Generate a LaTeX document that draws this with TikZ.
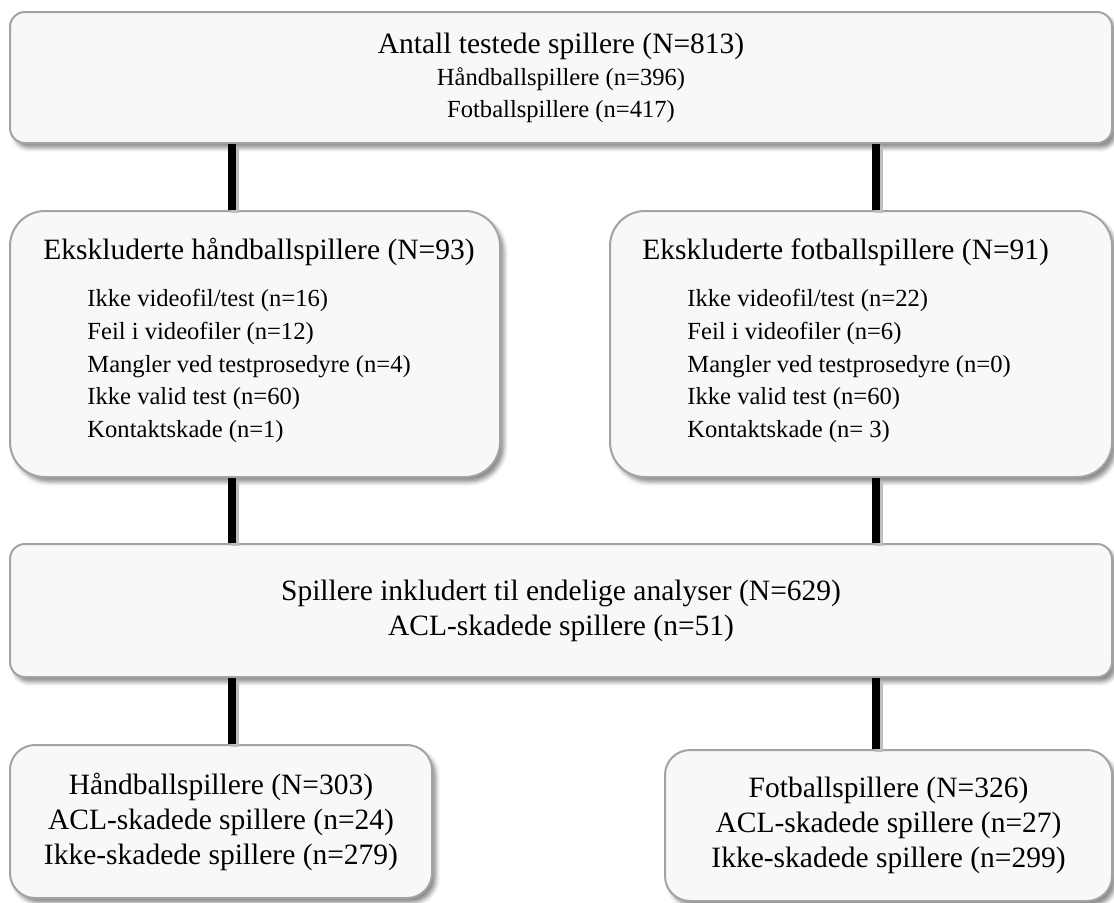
\documentclass[tikz,border=0pt]{standalone}
\usepackage{fontspec}
\setmainfont{Liberation Serif}
\usetikzlibrary{shadows.blur}
\definecolor{boksfyll}{HTML}{F8F8F8}
\definecolor{boksramme}{HTML}{A3A3A3}
\tikzset{
  boks/.style={draw=boksramme, line width=1pt, fill=boksfyll, inner sep=0pt,
    blur shadow={shadow xshift=2pt, shadow yshift=-2.5pt, shadow blur radius=2pt, shadow opacity=45}},
  stor/.style={font=\fontsize{14.75pt}{17.5pt}\selectfont},
  liten/.style={font=\fontsize{12.3pt}{16pt}\selectfont},
  tittel/.style={stor, anchor=west, inner xsep=0pt},
  liste/.style={font=\fontsize{12.3pt}{16.4pt}\selectfont, align=left, anchor=west, inner xsep=0pt},
  linje/.style={line width=4pt,
    preaction={draw=black!25, line width=4pt, transform canvas={xshift=1.5pt, yshift=-1.5pt}}}
}
\newcommand{\storskrift}{\fontsize{14.75pt}{16pt}\selectfont}
\begin{document}
\begin{tikzpicture}[x=0.5pt, y=-0.5pt]
  \useasboundingbox (0,0) rectangle (1114,902);

  % Alle testede spillere
  \node[boks, liten, align=center, rounded corners=7.5pt, minimum width=551pt, minimum height=65.5pt]
    (testet) at (561,77.5)
    {{\storskrift Antall testede spillere (N=813)}\\ Håndballspillere (n=396)\\ Fotballspillere (n=417)};

  % Ekskluderte spillere
  \node[boks, rounded corners=17.5pt, minimum width=245pt, minimum height=133pt] (ekshb) at (255,344) {};
  \node[boks, rounded corners=17.5pt, minimum width=251pt, minimum height=133pt] (eksfb) at (861,344) {};
  \node[tittel] (ekshbtittel) at (43,252) {Ekskluderte håndballspillere (N=93)};
  \node[liste] (ekshbliste) at (87,366)
    {Ikke videofil/test (n=16)\\ Feil i videofiler (n=12)\\ Mangler ved testprosedyre (n=4)\\
     Ikke valid test (n=60)\\ Kontaktskade (n=1)};
  \node[tittel] (eksfbtittel) at (642,252) {Ekskluderte fotballspillere (N=91)};
  \node[liste] (eksfbliste) at (687,366)
    {Ikke videofil/test (n=22)\\ Feil i videofiler (n=6)\\ Mangler ved testprosedyre (n=0)\\
     Ikke valid test (n=60)\\ Kontaktskade (n= 3)};

  % Inkluderte spillere
  \node[boks, stor, align=center, rounded corners=7.5pt, minimum width=551pt, minimum height=66.5pt]
    (inkl) at (561,610.5)
    {Spillere inkludert til endelige analyser (N=629)\\ ACL-skadede spillere (n=51)};

  % Håndball og fotball
  \node[boks, stor, align=center, rounded corners=12.5pt, minimum width=211pt, minimum height=76.5pt]
    (hb) at (221,821.5)
    {Håndballspillere (N=303)\\ ACL-skadede spillere (n=24)\\ Ikke-skadede spillere (n=279)};
  \node[boks, stor, align=center, rounded corners=12.5pt, minimum width=223.5pt, minimum height=75.5pt]
    (fb) at (888.5,825.5)
    {Fotballspillere (N=326)\\ ACL-skadede spillere (n=27)\\ Ikke-skadede spillere (n=299)};

  % Forbindelser
  \coordinate (v) at (232,0);
  \coordinate (h) at (876,0);
  \draw[linje] (testet.south -| v) -- (ekshb.north -| v);
  \draw[linje] (testet.south -| h) -- (eksfb.north -| h);
  \draw[linje] (ekshb.south -| v) -- (inkl.north -| v);
  \draw[linje] (eksfb.south -| h) -- (inkl.north -| h);
  \draw[linje] (inkl.south -| v) -- (hb.north -| v);
  \draw[linje] (inkl.south -| h) -- (fb.north -| h);
\end{tikzpicture}
\end{document}
